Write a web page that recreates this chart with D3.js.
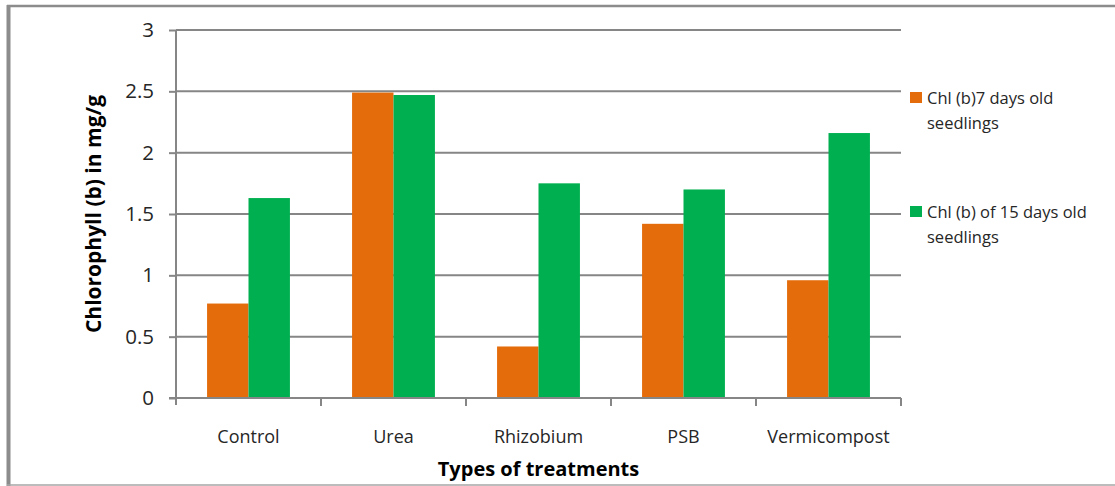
<!DOCTYPE html>
<html>
<head>
    <meta charset="utf-8">
    <script src="https://d3js.org/d3.v7.min.js"></script>
    <style>
        body { margin: 0; background: #fff; font-family: 'Open Sans', sans-serif; }
    </style>
</head>
<body>
<div id="chart"></div>
<script>
// data
const treatments = ["Control", "Urea", "Rhizobium", "PSB", "Vermicompost"];
const seriesNames = ["Chl (b)7 days old seedlings", "Chl (b) of 15 days old seedlings"];
const day7 = [0.77, 2.49, 0.42, 1.42, 0.96];
const day15 = [1.63, 2.47, 1.75, 1.70, 2.16];
const yTicks = [0, 0.5, 1, 1.5, 2, 2.5, 3];

const W = 1115, H = 486;
const margin = {top: 30, left: 176, right: 214, bottom: 88};
const innerW = W - margin.left - margin.right,   // 725
      innerH = H - margin.top - margin.bottom;   // 368

const colors = ["#E46C0A", "#00B050"];
const grey = "#868686";
const textCol = "#262626";

const svg = d3.select("#chart").append("svg")
    .attr("width", W)
    .attr("height", H);

// outer frame (right side runs off the picture)
svg.append("line").attr("x1", 8.5).attr("x2", 8.5).attr("y1", 5).attr("y2", 486)
    .attr("stroke", "#8c8c8c").attr("stroke-width", 4);
svg.append("line").attr("x1", 7).attr("x2", W).attr("y1", 6).attr("y2", 6)
    .attr("stroke", "#8c8c8c").attr("stroke-width", 2.5);
svg.append("line").attr("x1", 7).attr("x2", W).attr("y1", 485).attr("y2", 485)
    .attr("stroke", "#a6a6a6").attr("stroke-width", 1.5);

const g = svg.append("g")
    .attr("transform", `translate(${margin.left},${margin.top})`);

const x = d3.scaleBand().domain(treatments).range([0, innerW]);
const x1 = d3.scaleBand().domain([0, 1]).range([0, x.bandwidth()]).paddingOuter(0.75);
const y = d3.scaleLinear().domain([0, 3]).range([innerH, 0]);

// gridlines
g.append("g")
  .selectAll("line")
  .data(yTicks.filter(d => d > 0))
  .join("line")
    .attr("x1", 0).attr("x2", innerW)
    .attr("y1", d => y(d)).attr("y2", d => y(d))
    .attr("stroke", grey).attr("stroke-width", 2);

// bars
const rows = treatments.map((t, i) => ({t, v: [day7[i], day15[i]]}));
g.append("g")
  .selectAll("g")
  .data(rows)
  .join("g")
    .attr("transform", d => `translate(${x(d.t)},0)`)
  .selectAll("rect")
  .data(d => d.v.map((v, k) => ({k, v})))
  .join("rect")
    .attr("x", d => x1(d.k))
    .attr("width", x1.bandwidth())
    .attr("y", d => y(d.v))
    .attr("height", d => innerH - y(d.v))
    .attr("fill", d => colors[d.k]);

// y axis
const yAxis = g.append("g")
    .call(d3.axisLeft(y).tickValues(yTicks).tickSize(7).tickPadding(15).tickFormat(d3.format("")))
    .call(a => a.select(".domain").attr("d", `M0,0V${innerH + 7}`));
yAxis.selectAll("line, path").attr("stroke", grey).attr("stroke-width", 2);
yAxis.selectAll("text").attr("font-family", "'Open Sans', sans-serif")
    .attr("font-size", 20.5).attr("fill", textCol);

// x axis: ticks at category boundaries
const xAxis = g.append("g")
    .attr("transform", `translate(0,${innerH})`);
xAxis.append("line").attr("x1", -7).attr("x2", innerW)
    .attr("stroke", grey).attr("stroke-width", 2);
xAxis.selectAll(".bt")
  .data(treatments.slice(1).concat(["end"]))
  .join("line")
    .attr("class", "bt")
    .attr("x1", (d, i) => x.step() * (i + 1)).attr("x2", (d, i) => x.step() * (i + 1))
    .attr("y1", 0).attr("y2", 8)
    .attr("stroke", grey).attr("stroke-width", 2);
xAxis.selectAll("text")
  .data(treatments)
  .join("text")
    .attr("x", d => x(d) + x.bandwidth() / 2)
    .attr("y", 45)
    .attr("text-anchor", "middle")
    .attr("font-size", 18)
    .attr("fill", textCol)
    .text(d => d);

// axis titles
svg.append("text")
    .attr("transform", `translate(101,${margin.top + innerH / 2}) rotate(-90)`)
    .attr("text-anchor", "middle")
    .attr("font-size", 21).attr("font-weight", "bold")
    .text("Chlorophyll (b) in mg/g");
svg.append("text")
    .attr("x", margin.left + innerW / 2).attr("y", 476)
    .attr("text-anchor", "middle")
    .attr("font-size", 20).attr("font-weight", "bold")
    .text("Types of treatments");

// legend
const legendY = [92, 206];
const leg = svg.append("g").selectAll("g")
  .data(seriesNames)
  .join("g")
    .attr("transform", (d, i) => `translate(910,${legendY[i]})`);
leg.append("rect").attr("width", 12).attr("height", 11).attr("fill", (d, i) => colors[i]);
leg.append("text")
    .attr("y", 12)
    .attr("font-size", 16.5).attr("fill", textCol)
    .selectAll("tspan")
    .data(d => [d.slice(0, d.lastIndexOf(" ")), d.slice(d.lastIndexOf(" ") + 1)])
    .join("tspan")
      .attr("x", 17).attr("dy", (d, i) => i ? 24.5 : 0)
      .text(d => d);
</script>
</body>
</html>
